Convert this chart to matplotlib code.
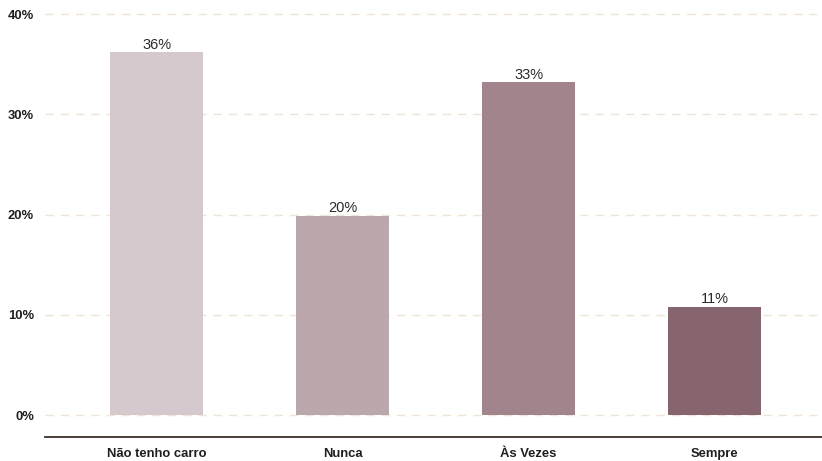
import matplotlib
matplotlib.use("Agg")
import matplotlib.pyplot as plt
from matplotlib.ticker import FuncFormatter

categories = ["Não tenho carro", "Nunca", "Às Vezes", "Sempre"]
values = [36.2, 19.9, 33.2, 10.8]
colors = ["#D5C9CD", "#BBA8AD", "#A2848C", "#87656F"]
yticks = [0, 10, 20, 30, 40]

plt.rcParams["font.family"] = ["Liberation Sans", "DejaVu Sans"]

W, H = 822, 461
fig = plt.figure(figsize=(W / 100, H / 100), dpi=100)
left, right, bottom, top = 45, 822, 437, 5
ax = fig.add_axes([left / W, (H - bottom) / H, (right - left) / W, (bottom - top) / H])

x = list(range(len(categories)))
ax.bar(x, values, width=0.5, color=colors, zorder=3)
for xi, v in zip(x, values):
    ax.text(xi, v + 0.05, f"{v:.0f}%", ha="center", va="bottom",
            fontsize=10.5, color="#2B2B2B", zorder=4)

ax.set_xlim(-0.6, 3.578)
ax.set_ylim(-2.19, 40.9)
ax.set_yticks(yticks)
ax.yaxis.set_major_formatter(FuncFormatter(lambda v, p: f"{v:.0f}%"))
ax.set_xticks(x)
ax.set_xticklabels(categories)
for lbl in ax.get_xticklabels() + ax.get_yticklabels():
    lbl.set_fontweight("bold")
    lbl.set_fontsize(9.4)
    lbl.set_color("#1E1E1E")

ax.tick_params(axis="both", length=0)
ax.tick_params(axis="x", pad=8)
ax.tick_params(axis="y", pad=8)
ax.grid(axis="y", color="#EFE4D6", linestyle=(0, (6, 5)), linewidth=1, zorder=0)

for s in ["top", "right", "left"]:
    ax.spines[s].set_visible(False)
ax.spines["bottom"].set_color("#3A2E28")
ax.spines["bottom"].set_linewidth(1.3)

fig.savefig("out.png", dpi=100)
